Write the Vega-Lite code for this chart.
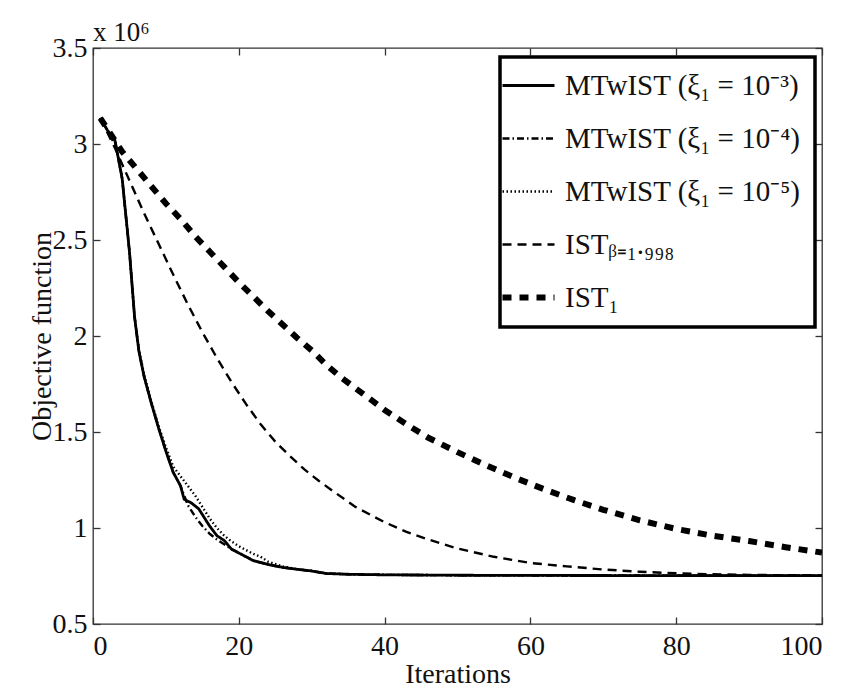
{
  "$schema": "https://vega.github.io/schema/vega-lite/v6.json",
  "width": 729,
  "height": 576,
  "autosize": {"type": "none"},
  "padding": {"left": 93, "top": 48, "right": 43, "bottom": 67},
  "background": "white",
  "title": {"text": "x 10⁶", "anchor": "start", "frame": "group", "font": "Liberation Serif", "fontSize": 27, "fontWeight": "normal", "color": "#111", "offset": -13},
  "config": {
    "font": "Liberation Serif",
    "view": {"stroke": "#333", "strokeWidth": 1.3},
    "axis": {"labelFont": "Liberation Serif", "titleFont": "Liberation Serif", "labelFontSize": 28, "titleFontSize": 28, "labelColor": "#111", "titleColor": "#111", "titleFontWeight": "normal", "grid": false, "domain": false, "tickColor": "#333", "tickSize": -7, "tickWidth": 1.3},
    "legend": {"labelFont": "Liberation Serif", "labelFontSize": 29, "labelColor": "#111"}
  },
  "data": {"values": [
    {"series": "MTwIST (ξ₁ = 10⁻³)", "iteration": 1, "objective": 3.135},
    {"series": "MTwIST (ξ₁ = 10⁻³)", "iteration": 2, "objective": 3.07},
    {"series": "MTwIST (ξ₁ = 10⁻³)", "iteration": 3, "objective": 3.02},
    {"series": "MTwIST (ξ₁ = 10⁻³)", "iteration": 4, "objective": 2.82},
    {"series": "MTwIST (ξ₁ = 10⁻³)", "iteration": 5, "objective": 2.44},
    {"series": "MTwIST (ξ₁ = 10⁻³)", "iteration": 5.7, "objective": 2.1},
    {"series": "MTwIST (ξ₁ = 10⁻³)", "iteration": 6.3, "objective": 1.92},
    {"series": "MTwIST (ξ₁ = 10⁻³)", "iteration": 7, "objective": 1.79},
    {"series": "MTwIST (ξ₁ = 10⁻³)", "iteration": 8, "objective": 1.65},
    {"series": "MTwIST (ξ₁ = 10⁻³)", "iteration": 9, "objective": 1.52},
    {"series": "MTwIST (ξ₁ = 10⁻³)", "iteration": 10, "objective": 1.4},
    {"series": "MTwIST (ξ₁ = 10⁻³)", "iteration": 11, "objective": 1.29},
    {"series": "MTwIST (ξ₁ = 10⁻³)", "iteration": 12, "objective": 1.22},
    {"series": "MTwIST (ξ₁ = 10⁻³)", "iteration": 12.5, "objective": 1.15},
    {"series": "MTwIST (ξ₁ = 10⁻³)", "iteration": 13.5, "objective": 1.13},
    {"series": "MTwIST (ξ₁ = 10⁻³)", "iteration": 14.5, "objective": 1.1},
    {"series": "MTwIST (ξ₁ = 10⁻³)", "iteration": 15, "objective": 1.07},
    {"series": "MTwIST (ξ₁ = 10⁻³)", "iteration": 16, "objective": 1.01},
    {"series": "MTwIST (ξ₁ = 10⁻³)", "iteration": 17, "objective": 0.96},
    {"series": "MTwIST (ξ₁ = 10⁻³)", "iteration": 18, "objective": 0.935},
    {"series": "MTwIST (ξ₁ = 10⁻³)", "iteration": 19, "objective": 0.89},
    {"series": "MTwIST (ξ₁ = 10⁻³)", "iteration": 20, "objective": 0.87},
    {"series": "MTwIST (ξ₁ = 10⁻³)", "iteration": 21, "objective": 0.85},
    {"series": "MTwIST (ξ₁ = 10⁻³)", "iteration": 22, "objective": 0.83},
    {"series": "MTwIST (ξ₁ = 10⁻³)", "iteration": 24, "objective": 0.81},
    {"series": "MTwIST (ξ₁ = 10⁻³)", "iteration": 26, "objective": 0.795},
    {"series": "MTwIST (ξ₁ = 10⁻³)", "iteration": 28, "objective": 0.785},
    {"series": "MTwIST (ξ₁ = 10⁻³)", "iteration": 30, "objective": 0.776},
    {"series": "MTwIST (ξ₁ = 10⁻³)", "iteration": 32, "objective": 0.763},
    {"series": "MTwIST (ξ₁ = 10⁻³)", "iteration": 35, "objective": 0.759},
    {"series": "MTwIST (ξ₁ = 10⁻³)", "iteration": 40, "objective": 0.756},
    {"series": "MTwIST (ξ₁ = 10⁻³)", "iteration": 50, "objective": 0.754},
    {"series": "MTwIST (ξ₁ = 10⁻³)", "iteration": 60, "objective": 0.753},
    {"series": "MTwIST (ξ₁ = 10⁻³)", "iteration": 80, "objective": 0.752},
    {"series": "MTwIST (ξ₁ = 10⁻³)", "iteration": 100, "objective": 0.752},

    {"series": "MTwIST (ξ₁ = 10⁻⁴)", "iteration": 1, "objective": 3.135},
    {"series": "MTwIST (ξ₁ = 10⁻⁴)", "iteration": 2, "objective": 3.07},
    {"series": "MTwIST (ξ₁ = 10⁻⁴)", "iteration": 3, "objective": 3.02},
    {"series": "MTwIST (ξ₁ = 10⁻⁴)", "iteration": 4, "objective": 2.82},
    {"series": "MTwIST (ξ₁ = 10⁻⁴)", "iteration": 5, "objective": 2.44},
    {"series": "MTwIST (ξ₁ = 10⁻⁴)", "iteration": 5.7, "objective": 2.1},
    {"series": "MTwIST (ξ₁ = 10⁻⁴)", "iteration": 6.3, "objective": 1.92},
    {"series": "MTwIST (ξ₁ = 10⁻⁴)", "iteration": 7, "objective": 1.79},
    {"series": "MTwIST (ξ₁ = 10⁻⁴)", "iteration": 8, "objective": 1.65},
    {"series": "MTwIST (ξ₁ = 10⁻⁴)", "iteration": 9, "objective": 1.52},
    {"series": "MTwIST (ξ₁ = 10⁻⁴)", "iteration": 10, "objective": 1.4},
    {"series": "MTwIST (ξ₁ = 10⁻⁴)", "iteration": 11, "objective": 1.29},
    {"series": "MTwIST (ξ₁ = 10⁻⁴)", "iteration": 12, "objective": 1.22},
    {"series": "MTwIST (ξ₁ = 10⁻⁴)", "iteration": 13, "objective": 1.12},
    {"series": "MTwIST (ξ₁ = 10⁻⁴)", "iteration": 14, "objective": 1.06},
    {"series": "MTwIST (ξ₁ = 10⁻⁴)", "iteration": 15, "objective": 1.01},
    {"series": "MTwIST (ξ₁ = 10⁻⁴)", "iteration": 16, "objective": 0.97},
    {"series": "MTwIST (ξ₁ = 10⁻⁴)", "iteration": 17, "objective": 0.94},
    {"series": "MTwIST (ξ₁ = 10⁻⁴)", "iteration": 18, "objective": 0.915},
    {"series": "MTwIST (ξ₁ = 10⁻⁴)", "iteration": 19, "objective": 0.89},
    {"series": "MTwIST (ξ₁ = 10⁻⁴)", "iteration": 20, "objective": 0.87},
    {"series": "MTwIST (ξ₁ = 10⁻⁴)", "iteration": 21, "objective": 0.85},
    {"series": "MTwIST (ξ₁ = 10⁻⁴)", "iteration": 22, "objective": 0.83},
    {"series": "MTwIST (ξ₁ = 10⁻⁴)", "iteration": 24, "objective": 0.81},
    {"series": "MTwIST (ξ₁ = 10⁻⁴)", "iteration": 26, "objective": 0.795},
    {"series": "MTwIST (ξ₁ = 10⁻⁴)", "iteration": 28, "objective": 0.785},
    {"series": "MTwIST (ξ₁ = 10⁻⁴)", "iteration": 30, "objective": 0.776},
    {"series": "MTwIST (ξ₁ = 10⁻⁴)", "iteration": 32, "objective": 0.763},
    {"series": "MTwIST (ξ₁ = 10⁻⁴)", "iteration": 35, "objective": 0.759},
    {"series": "MTwIST (ξ₁ = 10⁻⁴)", "iteration": 40, "objective": 0.756},
    {"series": "MTwIST (ξ₁ = 10⁻⁴)", "iteration": 50, "objective": 0.754},
    {"series": "MTwIST (ξ₁ = 10⁻⁴)", "iteration": 60, "objective": 0.753},
    {"series": "MTwIST (ξ₁ = 10⁻⁴)", "iteration": 80, "objective": 0.752},
    {"series": "MTwIST (ξ₁ = 10⁻⁴)", "iteration": 100, "objective": 0.752},

    {"series": "MTwIST (ξ₁ = 10⁻⁵)", "iteration": 1, "objective": 3.135},
    {"series": "MTwIST (ξ₁ = 10⁻⁵)", "iteration": 2, "objective": 3.07},
    {"series": "MTwIST (ξ₁ = 10⁻⁵)", "iteration": 3, "objective": 3.02},
    {"series": "MTwIST (ξ₁ = 10⁻⁵)", "iteration": 4, "objective": 2.82},
    {"series": "MTwIST (ξ₁ = 10⁻⁵)", "iteration": 5, "objective": 2.44},
    {"series": "MTwIST (ξ₁ = 10⁻⁵)", "iteration": 5.7, "objective": 2.1},
    {"series": "MTwIST (ξ₁ = 10⁻⁵)", "iteration": 6.3, "objective": 1.93},
    {"series": "MTwIST (ξ₁ = 10⁻⁵)", "iteration": 7, "objective": 1.8},
    {"series": "MTwIST (ξ₁ = 10⁻⁵)", "iteration": 8, "objective": 1.66},
    {"series": "MTwIST (ξ₁ = 10⁻⁵)", "iteration": 9, "objective": 1.53},
    {"series": "MTwIST (ξ₁ = 10⁻⁵)", "iteration": 10, "objective": 1.42},
    {"series": "MTwIST (ξ₁ = 10⁻⁵)", "iteration": 11, "objective": 1.32},
    {"series": "MTwIST (ξ₁ = 10⁻⁵)", "iteration": 12, "objective": 1.27},
    {"series": "MTwIST (ξ₁ = 10⁻⁵)", "iteration": 13, "objective": 1.22},
    {"series": "MTwIST (ξ₁ = 10⁻⁵)", "iteration": 14, "objective": 1.17},
    {"series": "MTwIST (ξ₁ = 10⁻⁵)", "iteration": 15, "objective": 1.11},
    {"series": "MTwIST (ξ₁ = 10⁻⁵)", "iteration": 16, "objective": 1.05},
    {"series": "MTwIST (ξ₁ = 10⁻⁵)", "iteration": 17, "objective": 1.0},
    {"series": "MTwIST (ξ₁ = 10⁻⁵)", "iteration": 18, "objective": 0.96},
    {"series": "MTwIST (ξ₁ = 10⁻⁵)", "iteration": 19, "objective": 0.93},
    {"series": "MTwIST (ξ₁ = 10⁻⁵)", "iteration": 20, "objective": 0.905},
    {"series": "MTwIST (ξ₁ = 10⁻⁵)", "iteration": 21, "objective": 0.885},
    {"series": "MTwIST (ξ₁ = 10⁻⁵)", "iteration": 22, "objective": 0.865},
    {"series": "MTwIST (ξ₁ = 10⁻⁵)", "iteration": 23, "objective": 0.85},
    {"series": "MTwIST (ξ₁ = 10⁻⁵)", "iteration": 24, "objective": 0.825},
    {"series": "MTwIST (ξ₁ = 10⁻⁵)", "iteration": 26, "objective": 0.8},
    {"series": "MTwIST (ξ₁ = 10⁻⁵)", "iteration": 28, "objective": 0.786},
    {"series": "MTwIST (ξ₁ = 10⁻⁵)", "iteration": 30, "objective": 0.777},
    {"series": "MTwIST (ξ₁ = 10⁻⁵)", "iteration": 32, "objective": 0.764},
    {"series": "MTwIST (ξ₁ = 10⁻⁵)", "iteration": 35, "objective": 0.759},
    {"series": "MTwIST (ξ₁ = 10⁻⁵)", "iteration": 40, "objective": 0.756},
    {"series": "MTwIST (ξ₁ = 10⁻⁵)", "iteration": 50, "objective": 0.754},
    {"series": "MTwIST (ξ₁ = 10⁻⁵)", "iteration": 60, "objective": 0.753},
    {"series": "MTwIST (ξ₁ = 10⁻⁵)", "iteration": 80, "objective": 0.752},
    {"series": "MTwIST (ξ₁ = 10⁻⁵)", "iteration": 100, "objective": 0.752},

    {"series": "ISTᵦ₌₁.₉₉₈", "iteration": 1, "objective": 3.135},
    {"series": "ISTᵦ₌₁.₉₉₈", "iteration": 3, "objective": 2.98},
    {"series": "ISTᵦ₌₁.₉₉₈", "iteration": 5, "objective": 2.81},
    {"series": "ISTᵦ₌₁.₉₉₈", "iteration": 7, "objective": 2.64},
    {"series": "ISTᵦ₌₁.₉₉₈", "iteration": 9, "objective": 2.48},
    {"series": "ISTᵦ₌₁.₉₉₈", "iteration": 11, "objective": 2.32},
    {"series": "ISTᵦ₌₁.₉₉₈", "iteration": 13, "objective": 2.165},
    {"series": "ISTᵦ₌₁.₉₉₈", "iteration": 15, "objective": 2.02},
    {"series": "ISTᵦ₌₁.₉₉₈", "iteration": 17, "objective": 1.885},
    {"series": "ISTᵦ₌₁.₉₉₈", "iteration": 19, "objective": 1.76},
    {"series": "ISTᵦ₌₁.₉₉₈", "iteration": 21, "objective": 1.645},
    {"series": "ISTᵦ₌₁.₉₉₈", "iteration": 23, "objective": 1.54},
    {"series": "ISTᵦ₌₁.₉₉₈", "iteration": 25, "objective": 1.45},
    {"series": "ISTᵦ₌₁.₉₉₈", "iteration": 27, "objective": 1.375},
    {"series": "ISTᵦ₌₁.₉₉₈", "iteration": 29, "objective": 1.305},
    {"series": "ISTᵦ₌₁.₉₉₈", "iteration": 31, "objective": 1.245},
    {"series": "ISTᵦ₌₁.₉₉₈", "iteration": 33, "objective": 1.19},
    {"series": "ISTᵦ₌₁.₉₉₈", "iteration": 36, "objective": 1.11},
    {"series": "ISTᵦ₌₁.₉₉₈", "iteration": 40, "objective": 1.03},
    {"series": "ISTᵦ₌₁.₉₉₈", "iteration": 43, "objective": 0.98},
    {"series": "ISTᵦ₌₁.₉₉₈", "iteration": 46, "objective": 0.94},
    {"series": "ISTᵦ₌₁.₉₉₈", "iteration": 50, "objective": 0.893},
    {"series": "ISTᵦ₌₁.₉₉₈", "iteration": 55, "objective": 0.85},
    {"series": "ISTᵦ₌₁.₉₉₈", "iteration": 60, "objective": 0.818},
    {"series": "ISTᵦ₌₁.₉₉₈", "iteration": 65, "objective": 0.8},
    {"series": "ISTᵦ₌₁.₉₉₈", "iteration": 70, "objective": 0.784},
    {"series": "ISTᵦ₌₁.₉₉₈", "iteration": 75, "objective": 0.772},
    {"series": "ISTᵦ₌₁.₉₉₈", "iteration": 80, "objective": 0.764},
    {"series": "ISTᵦ₌₁.₉₉₈", "iteration": 85, "objective": 0.759},
    {"series": "ISTᵦ₌₁.₉₉₈", "iteration": 90, "objective": 0.756},
    {"series": "ISTᵦ₌₁.₉₉₈", "iteration": 95, "objective": 0.754},
    {"series": "ISTᵦ₌₁.₉₉₈", "iteration": 100, "objective": 0.753},

    {"series": "IST₁", "iteration": 1, "objective": 3.135},
    {"series": "IST₁", "iteration": 4, "objective": 2.96},
    {"series": "IST₁", "iteration": 6, "objective": 2.87},
    {"series": "IST₁", "iteration": 8, "objective": 2.78},
    {"series": "IST₁", "iteration": 10, "objective": 2.69},
    {"series": "IST₁", "iteration": 12, "objective": 2.61},
    {"series": "IST₁", "iteration": 14, "objective": 2.52},
    {"series": "IST₁", "iteration": 16, "objective": 2.44},
    {"series": "IST₁", "iteration": 18, "objective": 2.36},
    {"series": "IST₁", "iteration": 20, "objective": 2.28},
    {"series": "IST₁", "iteration": 22, "objective": 2.205},
    {"series": "IST₁", "iteration": 24, "objective": 2.13},
    {"series": "IST₁", "iteration": 26, "objective": 2.06},
    {"series": "IST₁", "iteration": 28, "objective": 1.99},
    {"series": "IST₁", "iteration": 30, "objective": 1.925},
    {"series": "IST₁", "iteration": 32, "objective": 1.85},
    {"series": "IST₁", "iteration": 34, "objective": 1.785},
    {"series": "IST₁", "iteration": 37, "objective": 1.7},
    {"series": "IST₁", "iteration": 40, "objective": 1.615},
    {"series": "IST₁", "iteration": 43, "objective": 1.54},
    {"series": "IST₁", "iteration": 46, "objective": 1.47},
    {"series": "IST₁", "iteration": 50, "objective": 1.395},
    {"series": "IST₁", "iteration": 54, "objective": 1.325},
    {"series": "IST₁", "iteration": 58, "objective": 1.26},
    {"series": "IST₁", "iteration": 62, "objective": 1.2},
    {"series": "IST₁", "iteration": 66, "objective": 1.145},
    {"series": "IST₁", "iteration": 70, "objective": 1.095},
    {"series": "IST₁", "iteration": 75, "objective": 1.04},
    {"series": "IST₁", "iteration": 80, "objective": 0.995},
    {"series": "IST₁", "iteration": 85, "objective": 0.96},
    {"series": "IST₁", "iteration": 90, "objective": 0.932},
    {"series": "IST₁", "iteration": 95, "objective": 0.9},
    {"series": "IST₁", "iteration": 100, "objective": 0.872}
  ]},
  "layer": [
    {
      "mark": {"type": "line", "color": "black", "clip": true},
      "encoding": {
        "x": {"field": "iteration", "type": "quantitative", "scale": {"domain": [0, 100], "nice": false},
              "axis": {"values": [0, 20, 40, 60, 80, 100], "title": "Iterations", "labelPadding": 15, "titlePadding": 0}},
        "y": {"field": "objective", "type": "quantitative", "scale": {"domain": [0.5, 3.5], "nice": false, "zero": false},
              "axis": {"values": [0.5, 1, 1.5, 2, 2.5, 3, 3.5], "format": "~g", "title": "Objective function", "labelPadding": 13, "titlePadding": -4}},
        "strokeDash": {"field": "series", "type": "nominal",
          "scale": {"domain": ["MTwIST (ξ₁ = 10⁻³)", "MTwIST (ξ₁ = 10⁻⁴)", "MTwIST (ξ₁ = 10⁻⁵)", "ISTᵦ₌₁.₉₉₈", "IST₁"],
                    "range": [[1, 0], [7, 3, 1.5, 3], [1.5, 2.5], [9, 6], [9, 8]]},
          "legend": {"title": null, "orient": "none", "legendX": 407, "legendY": 9, "symbolType": "stroke", "symbolSize": 2704, "symbolStrokeColor": "black",
                     "labelFont": "Liberation Serif", "labelFontSize": 29, "labelColor": "#111", "labelLimit": 400, "labelOffset": 22,
                     "padding": 14, "rowPadding": 23, "strokeColor": "black", "fillColor": "white",
                     "encode": {
                       "legend": {"update": {"strokeWidth": {"value": 3.5}}},
                       "symbols": {"update": {"strokeWidth": {"signal": "datum.value === 'IST₁' ? 6 : datum.value === 'MTwIST (ξ₁ = 10⁻³)' ? 3 : 2.4"}}}
                     }}},
        "strokeWidth": {"condition": [
            {"test": "datum.series === 'IST₁'", "value": 6},
            {"test": "datum.series === 'MTwIST (ξ₁ = 10⁻³)'", "value": 2.8}
          ], "value": 2.4}
      }
    },
    {
      "mark": {"type": "point", "opacity": 0},
      "encoding": {
        "x": {"field": "iteration", "type": "quantitative", "axis": {"orient": "top", "values": [0, 20, 40, 60, 80, 100], "labels": false, "title": null}},
        "y": {"field": "objective", "type": "quantitative", "axis": {"orient": "right", "values": [0.5, 1, 1.5, 2, 2.5, 3, 3.5], "labels": false, "title": null}}
      }
    }
  ],
  "resolve": {"axis": {"x": "independent", "y": "independent"}}
}
